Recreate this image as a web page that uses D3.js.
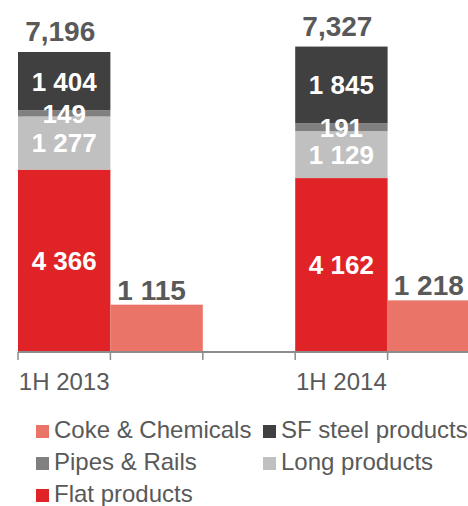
<!DOCTYPE html>
<html>
<head>
<meta charset="utf-8">
<script src="https://cdn.jsdelivr.net/npm/d3@7"></script>
<style>
  html, body { margin: 0; padding: 0; background: #fff; }
  svg { display: block; font-family: "Liberation Sans", Arial, sans-serif; }
</style>
</head>
<body>
<svg id="chart" width="468" height="506"></svg>
<script>
// Periods on the category axis
const periods = ["1H 2013", "1H 2014"];

// Stacked segments (bottom to top) for the main bar in each period
const stackKeys = ["Flat products", "Long products", "Pipes & Rails", "SF steel products"];
const flatProducts = [4366, 4162];
const longProducts = [1277, 1129];
const pipesRails   = [149, 191];
const sfSteel      = [1404, 1845];

// Separate bar next to each stack
const cokeChemicals = [1115, 1218];

// Totals printed above each stack
const totalLabels = ["7,196", "7,327"];

// Legend order
const legendItems = ["Coke & Chemicals", "SF steel products", "Pipes & Rails", "Long products", "Flat products"];

const colors = {
  "Flat products": "#e02326",
  "Long products": "#c0c0c0",
  "Pipes & Rails": "#808080",
  "SF steel products": "#404040",
  "Coke & Chemicals": "#e97467"
};
const textGray = "#595959";

const svg = d3.select("#chart");

const y = d3.scaleLinear().domain([0, 8000]).range([351, 18.6]);

const xGroup = d3.scaleBand().domain(periods).range([18, 480]).paddingInner(1 / 3).paddingOuter(0);
const xSub = d3.scaleBand().domain(["stack", "coke"]).range([0, xGroup.bandwidth()]);

const fmt = v => d3.format(",")(v).replace(/,/g, " ");

const rows = periods.map((p, i) => ({
  period: p,
  "Flat products": flatProducts[i],
  "Long products": longProducts[i],
  "Pipes & Rails": pipesRails[i],
  "SF steel products": sfSteel[i],
  coke: cokeChemicals[i],
  total: totalLabels[i]
}));

const series = d3.stack().keys(stackKeys)(rows);

// Stacked bars
const gStack = svg.append("g");
series.forEach(s => {
  gStack.selectAll(null)
    .data(s)
    .join("rect")
    .attr("x", d => xGroup(d.data.period) + xSub("stack"))
    .attr("width", xSub.bandwidth())
    .attr("y", d => y(d[1]))
    .attr("height", d => y(d[0]) - y(d[1]))
    .attr("fill", colors[s.key]);
});

// Coke & Chemicals bars
svg.append("g").selectAll("rect")
  .data(rows)
  .join("rect")
  .attr("x", d => xGroup(d.period) + xSub("coke"))
  .attr("width", xSub.bandwidth())
  .attr("y", d => y(d.coke))
  .attr("height", d => y(0) - y(d.coke))
  .attr("fill", colors["Coke & Chemicals"]);

// Segment value labels (white, inside)
series.forEach(s => {
  svg.append("g").selectAll("text")
    .data(s)
    .join("text")
    .attr("x", d => xGroup(d.data.period) + xSub("stack") + xSub.bandwidth() / 2)
    .attr("y", d => (y(d[0]) + y(d[1])) / 2)
    .attr("dy", "0.36em")
    .attr("text-anchor", "middle")
    .attr("fill", "#fff")
    .attr("font-weight", "bold")
    .attr("font-size", 26)
    .text(d => fmt(d.data[s.key]));
});

// Totals above the stacks
const topSeries = series[series.length - 1];
svg.append("g").selectAll("text")
  .data(topSeries)
  .join("text")
  .attr("x", d => xGroup(d.data.period) + xSub("stack") + xSub.bandwidth() / 2 - 4)
  .attr("y", d => y(d[1]) - 11)
  .attr("text-anchor", "middle")
  .attr("fill", textGray)
  .attr("font-weight", "bold")
  .attr("font-size", 28)
  .text(d => d.data.total);

// Coke & Chemicals values above bars
svg.append("g").selectAll("text")
  .data(rows)
  .join("text")
  .attr("x", d => xGroup(d.period) + xSub("coke") + xSub.bandwidth() / 2 - 5)
  .attr("y", d => y(d.coke) - 5)
  .attr("text-anchor", "middle")
  .attr("fill", textGray)
  .attr("font-weight", "bold")
  .attr("font-size", 28)
  .text(d => fmt(d.coke));

// Category axis
const axisY = y(0) + 1;
const axis = svg.append("g");
axis.append("line")
  .attr("x1", xGroup.range()[0]).attr("x2", xGroup.range()[1])
  .attr("y1", axisY).attr("y2", axisY)
  .attr("stroke", "#8c8c8c").attr("stroke-width", 2);

const tickXs = [];
periods.forEach(p => {
  tickXs.push(xGroup(p) + xSub("stack"));
  tickXs.push(xGroup(p) + xSub("coke"));
  tickXs.push(xGroup(p) + xSub("coke") + xSub.bandwidth());
});
axis.selectAll("line.tick")
  .data(tickXs)
  .join("line")
  .attr("class", "tick")
  .attr("x1", d => d).attr("x2", d => d)
  .attr("y1", axisY).attr("y2", axisY + 8)
  .attr("stroke", "#8c8c8c").attr("stroke-width", 1.5);

axis.selectAll("text")
  .data(periods)
  .join("text")
  .attr("x", p => xGroup(p) + xSub("stack") + xSub.bandwidth() / 2)
  .attr("y", 390)
  .attr("text-anchor", "middle")
  .attr("fill", textGray)
  .attr("font-size", 24)
  .text(p => p);

// Legend (two columns)
const legend = svg.append("g");
const item = legend.selectAll("g")
  .data(legendItems)
  .join("g")
  .attr("transform", (d, i) => `translate(${i % 2 === 0 ? 36 : 263},${438 + Math.floor(i / 2) * 32})`);
item.append("rect")
  .attr("x", 0).attr("y", -13)
  .attr("width", 13).attr("height", 13)
  .attr("fill", d => colors[d]);
item.append("text")
  .attr("x", 18).attr("y", 0)
  .attr("fill", textGray)
  .attr("font-size", 24)
  .text(d => d);
</script>
</body>
</html>
